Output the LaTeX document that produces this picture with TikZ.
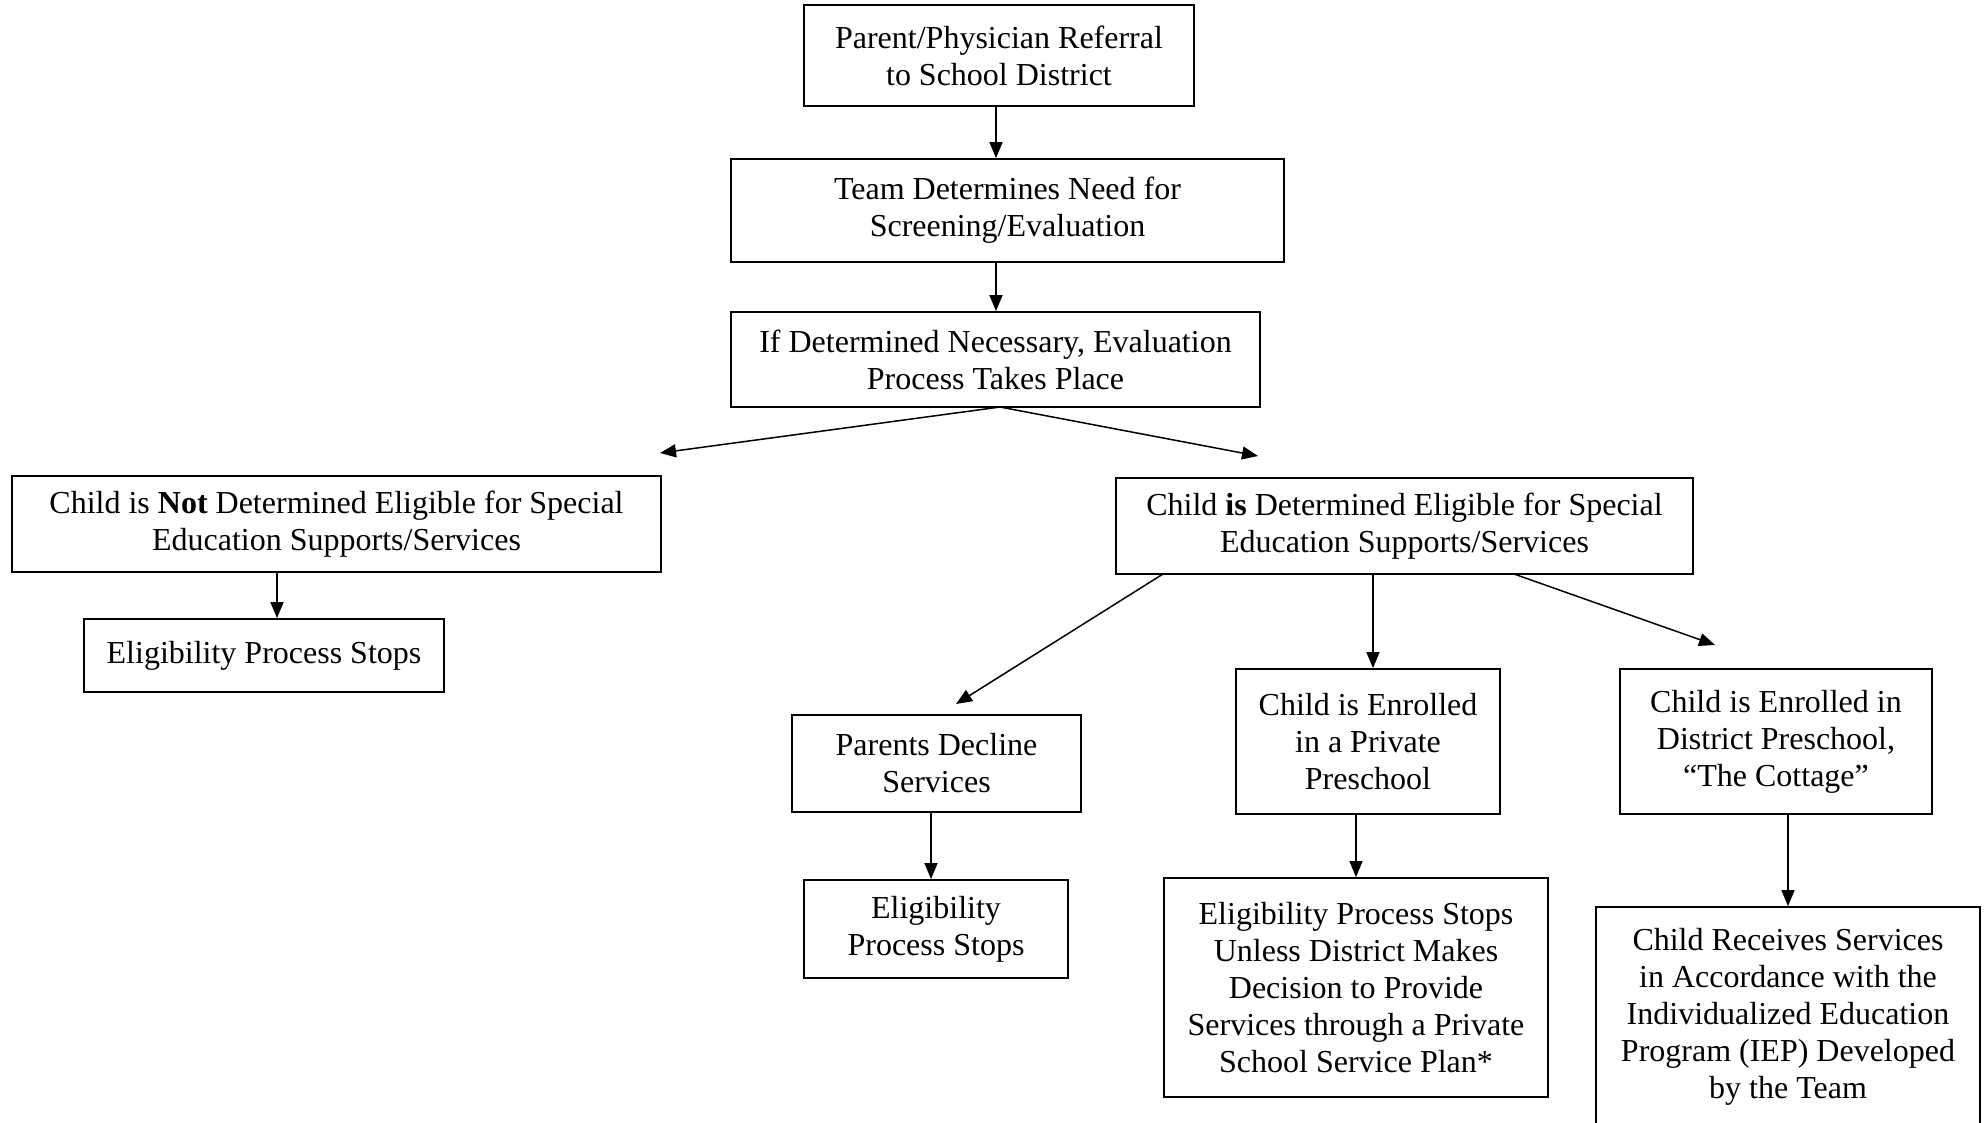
\documentclass[tikz,border=0pt]{standalone}
\usepackage{fontspec}
\setmainfont{Liberation Serif}
\usetikzlibrary{arrows.meta}
\begin{document}
\begin{tikzpicture}[x=1pt,y=-1pt,
  box/.style={draw,line width=1.8pt,rectangle,inner sep=0pt,align=center,font=\fontsize{32}{37}\selectfont},
  arr/.style={line width=1.5pt,-{Triangle[length=16pt,width=13pt]}}]
\useasboundingbox (0,0) rectangle (1986,1122);
\clip (0,0) rectangle (1986,1122);
\node[box,minimum width=390pt,minimum height=101pt] (b1) at (999,55.5) {Parent/Physician Referral\\to School District};
\node[box,minimum width=553pt,minimum height=103pt] (b2) at (1007.5,210.5) {Team Determines Need for\\Screening/Evaluation};
\node[box,minimum width=529pt,minimum height=95pt] (b3) at (995.5,359.5) {If Determined Necessary, Evaluation\\Process Takes Place};
\node[box,minimum width=649pt,minimum height=96pt] (notel) at (336.5,524) {Child is \textbf{Not} Determined Eligible for Special\\Education Supports/Services};
\node[box,minimum width=360pt,minimum height=73pt] (eps1) at (264,655.5) {Eligibility Process Stops};
\node[box,minimum width=577pt,minimum height=96pt] (elig) at (1404.5,526) {Child \textbf{is} Determined Eligible for Special\\Education Supports/Services};
\node[box,minimum width=289pt,minimum height=97pt] (decl) at (936.5,763.5) {Parents Decline\\Services};
\node[box,minimum width=264pt,minimum height=145pt] (priv) at (1368,741.5) {Child is Enrolled\\in a Private\\Preschool};
\node[box,minimum width=312pt,minimum height=145pt] (dist) at (1776,741.5) {Child is Enrolled in\\District Preschool,\\“The Cottage”};
\node[box,minimum width=264pt,minimum height=98pt] (eps2) at (936,929) {Eligibility\\Process Stops};
\node[box,minimum width=384pt,minimum height=219pt] (unl) at (1356,987.5) {Eligibility Process Stops\\Unless District Makes\\Decision to Provide\\Services through a Private\\School Service Plan*};
\node[box,minimum width=384pt,minimum height=220pt] (iep) at (1788,1017) {Child Receives Services\\in Accordance with the\\Individualized Education\\Program (IEP) Developed\\by the Team};
% x positions of vertical connectors
\coordinate (x1) at (996,0);
\coordinate (x2) at (277,0);
\coordinate (x3) at (1373,0);
\coordinate (x4) at (931,0);
\coordinate (x5) at (1356,0);
\coordinate (x6) at (1788,0);
% free ends
\coordinate (s3) at (1000,407);
\coordinate (eL) at (660,453);
\coordinate (eR) at (1258,456);
\coordinate (sA) at (1163,574);
\coordinate (eA) at (956,704);
\coordinate (sC) at (1514,574);
\coordinate (eC) at (1715,645);
\draw[arr] (b1.south -| x1) -- (b2.north -| x1);
\draw[arr] (b2.south -| x1) -- (b3.north -| x1);
\draw[arr] (s3) -- (eL);
\draw[arr] (s3) -- (eR);
\draw[arr] (notel.south -| x2) -- (eps1.north -| x2);
\draw[arr] (sA) -- (eA);
\draw[arr] (elig.south -| x3) -- (priv.north -| x3);
\draw[arr] (sC) -- (eC);
\draw[arr] (decl.south -| x4) -- (eps2.north -| x4);
\draw[arr] (priv.south -| x5) -- (unl.north -| x5);
\draw[arr] (dist.south -| x6) -- (iep.north -| x6);
\end{tikzpicture}
\end{document}
